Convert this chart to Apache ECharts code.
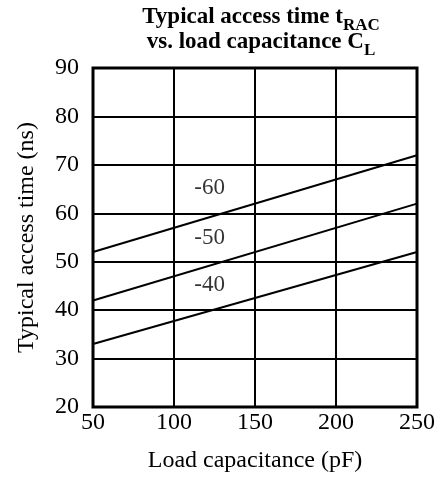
<!DOCTYPE html>
<html><head><meta charset="utf-8">
<script src="https://cdn.jsdelivr.net/npm/echarts@6/dist/echarts.min.js"></script>
<style>html,body{margin:0;padding:0;background:#fff}#c{width:446px;height:481px}</style>
</head><body><div id="c"></div>
<script>
var loadCap = [50, 250];
var speed60 = [52, 72];
var speed50 = [42, 62];
var speed40 = [33, 52];
var curveLabels = ['-60', '-50', '-40'];
var labelX = [122, 122, 122];
var labelY = [65.2, 54.9, 45.2];
var xTicks = [50, 100, 150, 200, 250];
var yTicks = [20, 30, 40, 50, 60, 70, 80, 90];

var FONT = '"Liberation Serif", "Times New Roman", serif';
function mk(vals) { return loadCap.map(function (x, i) { return [x, vals[i]]; }); }
var lineStyle = { color: '#000', width: 2 };
var chart = echarts.init(document.getElementById('c'), null, { renderer: 'canvas' });
chart.setOption({
  animation: false,
  backgroundColor: '#fff',
  title: {
    text: '{a|Typical access time t}{s|RAC}\n{a|vs. load capacitance C}{s|L}',
    left: 256, top: 1, textAlign: 'center',
    textStyle: {
      rich: {
        a: { fontFamily: FONT, fontWeight: 'bold', fontSize: 23, color: '#000', lineHeight: 25, verticalAlign: 'top' },
        s: { fontFamily: FONT, fontWeight: 'bold', fontSize: 17, color: '#000', lineHeight: 14, padding: [11, 0, 0, 0], verticalAlign: 'top' }
      }
    }
  },
  grid: { left: 93, right: 29, top: 68, bottom: 74, show: true, borderColor: '#000', borderWidth: 3, backgroundColor: 'transparent' },
  xAxis: {
    type: 'value', min: 50, max: 250, interval: 50,
    name: 'Load capacitance (pF)', nameLocation: 'middle', nameGap: 42,
    nameTextStyle: { fontFamily: FONT, fontSize: 24, color: '#000' },
    axisLine: { show: false }, axisTick: { show: false },
    axisLabel: { fontFamily: FONT, fontSize: 24, color: '#000', margin: 4,
      formatter: function (v) { return xTicks.indexOf(v) >= 0 ? String(v) : ''; } },
    splitLine: { show: true, lineStyle: { color: '#000', width: 2 } }
  },
  yAxis: {
    type: 'value', min: 20, max: 90, interval: 10,
    name: 'Typical access time (ns)', nameLocation: 'middle', nameGap: 54, nameRotate: 90,
    nameTextStyle: { fontFamily: FONT, fontSize: 24, color: '#000' },
    axisLine: { show: false }, axisTick: { show: false },
    axisLabel: { fontFamily: FONT, fontSize: 24, color: '#000', margin: 14,
      formatter: function (v) { return yTicks.indexOf(v) >= 0 ? String(v) : ''; } },
    splitLine: { show: true, lineStyle: { color: '#000', width: 2 } }
  },
  series: [
    { type: 'line', data: mk(speed60), symbol: 'none', lineStyle: lineStyle, silent: true },
    { type: 'line', data: mk(speed50), symbol: 'none', lineStyle: lineStyle, silent: true },
    { type: 'line', data: mk(speed40), symbol: 'none', lineStyle: lineStyle, silent: true },
    { type: 'scatter', symbolSize: 0, silent: true,
      data: curveLabels.map(function (t, i) { return { name: t, value: [labelX[i], labelY[i]] }; }),
      label: { show: true, position: 'inside', formatter: '{b}', fontFamily: FONT, fontSize: 23, color: '#000' } }
  ]
});
</script></body></html>
